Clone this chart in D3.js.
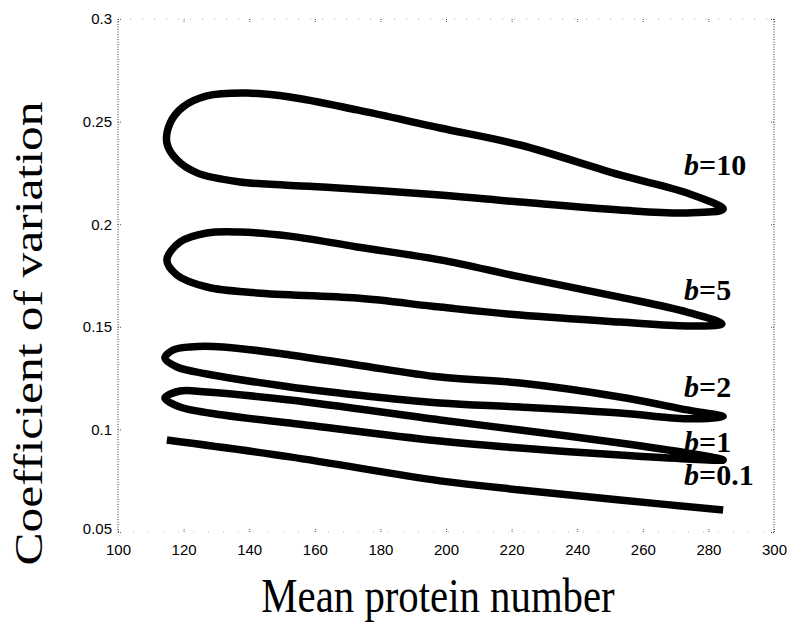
<!DOCTYPE html>
<html>
<head>
<meta charset="utf-8">
<script src="https://cdn.jsdelivr.net/npm/d3@7"></script>
<style>
  body { margin: 0; background: #fff; }
  text { fill: #000; }
</style>
</head>
<body>
<svg id="cv" width="788" height="636"></svg>
<script>
// x ticks, y ticks
const xTicks = [100, 120, 140, 160, 180, 200, 220, 240, 260, 280, 300];
const yTicks = [0.05, 0.1, 0.15, 0.2, 0.25, 0.3];

// curves (mean protein number, CV), loop order
const b10 = [[284.5,0.2074],[273.5,0.2152],[253,0.224],[222.6,0.2386],[198.2,0.2469],[172.9,0.2557],
  [152.4,0.262],[139.3,0.2639],[127.1,0.2625],[119.8,0.2571],[115.9,0.2493],[114.9,0.2396],
  [118,0.2313],[124.1,0.225],[137.2,0.2206],[162.5,0.2181],[198.2,0.2142],[222.6,0.2108],
  [253,0.2069],[273.5,0.2055]];
const b5 = [[284.1,0.1514],[273.5,0.1572],[253,0.1645],[222.6,0.1743],[198.2,0.1826],[172.9,0.1889],
  [152.4,0.1942],[137.2,0.1962],[127.1,0.1957],[118.9,0.1913],[114.9,0.1826],[118,0.1752],
  [127.1,0.1694],[142.4,0.1665],[172.9,0.164],[198.2,0.1596],[222.6,0.1557],[253,0.1523],
  [273.5,0.1504]];
const b2 = [[284.5,0.1062],[273.5,0.1095],[253,0.1158],[222.6,0.1226],[198.2,0.1255],[172.9,0.1314],
  [152.4,0.1363],[132,0.1402],[122,0.1402],[116.8,0.1387],[114.3,0.1348],[118,0.1304],
  [127.1,0.127],[152.4,0.1207],[172.9,0.1168],[198.2,0.1129],[222.6,0.1109],[253,0.108],
  [273.5,0.1052]];
const b1 = [[284.5,0.0851],[273.5,0.0885],[253,0.0934],[222.6,0.0997],[198.2,0.1046],[152.4,0.1143],
  [127.1,0.1182],[118.9,0.1187],[114.3,0.1153],[118.9,0.1109],[132,0.107],[152.4,0.1031],
  [198.2,0.0943],[222.6,0.0909],[253,0.0875],[273.5,0.0856]];
const b01 = [[114.9,0.0948],[152.4,0.0866],[198.2,0.0749],[222.6,0.0705],[253,0.0656],[284.5,0.0607]];

const labels = ["10", "5", "2", "1", "0.1"];
const labelAt = [[273.5,0.224],[273.5,0.163],[273.5,0.1158],[273.5,0.089],[273.5,0.0729]];

const svg = d3.select("svg#cv");
const x = d3.scaleLinear().domain([100, 300]).range([118, 774]);
const y = d3.scaleLinear().domain([0.05, 0.3]).range([532, 19]);

// frame: dotted sides, faint top/bottom
const frame = svg.append("g").attr("id", "frame");
frame.append("line").attr("x1", x(100)).attr("x2", x(100)).attr("y1", y(0.3)).attr("y2", y(0.05))
  .attr("stroke", "#333").attr("stroke-width", 1).attr("stroke-dasharray", "1,1.5");
frame.append("line").attr("x1", x(300)).attr("x2", x(300)).attr("y1", y(0.3)).attr("y2", y(0.05))
  .attr("stroke", "#333").attr("stroke-width", 1).attr("stroke-dasharray", "1,1.5");
frame.append("line").attr("x1", x(100)).attr("x2", x(300)).attr("y1", y(0.3)).attr("y2", y(0.3))
  .attr("stroke", "#aaa").attr("stroke-width", 1).attr("stroke-dasharray", "1,11");
frame.append("line").attr("x1", x(100)).attr("x2", x(300)).attr("y1", y(0.05)).attr("y2", y(0.05))
  .attr("stroke", "#bbb").attr("stroke-width", 1).attr("stroke-dasharray", "1,14");

// axes
const bottomAxis = d3.axisBottom(x).tickValues(xTicks).tickSizeInner(-4).tickSizeOuter(0).tickPadding(12);
const leftAxis = d3.axisLeft(y).tickValues(yTicks).tickSizeInner(-3).tickSizeOuter(0).tickPadding(6)
  .tickFormat(d3.format(".2~f"));
const topAxis = d3.axisTop(x).tickValues(xTicks).tickSizeInner(-3).tickSizeOuter(0).tickFormat("");
const rightAxis = d3.axisRight(y).tickValues(yTicks).tickSizeInner(-3).tickSizeOuter(0).tickFormat("");

const gx = svg.append("g").attr("transform", `translate(0,${y(0.05)})`).call(bottomAxis);
const gy = svg.append("g").attr("transform", `translate(${x(100)},0)`).call(leftAxis);
svg.append("g").attr("transform", `translate(0,${y(0.3)})`).call(topAxis);
svg.append("g").attr("transform", `translate(${x(300)},0)`).call(rightAxis);
svg.selectAll(".domain").remove();
svg.selectAll(".tick line").attr("stroke", "#555").attr("stroke-dasharray", "1,1");
svg.selectAll(".tick text")
  .attr("font-family", "'Liberation Sans', Arial, sans-serif")
  .attr("font-size", 15);
gy.selectAll(".tick").filter(d => d === 0.05).select("text").attr("dy", "0.1em");

// curves
const line = d3.line().x(d => x(d[0])).y(d => y(d[1]));
const loopPath = d3.line().x(d => x(d[0])).y(d => y(d[1])).curve(d3.curveCatmullRomClosed.alpha(0.5));
const curves = svg.append("g").attr("id", "curves");
[b10, b5, b2, b1].forEach(pts => {
  curves.append("path").attr("d", loopPath(pts))
    .attr("fill", "none").attr("stroke", "#000").attr("stroke-width", 7.5)
    .attr("stroke-linejoin", "round");
});
curves.append("path").attr("d", line.curve(d3.curveCatmullRom.alpha(0.5))(b01))
  .attr("fill", "none").attr("stroke", "#000").attr("stroke-width", 7.5).attr("stroke-linecap", "butt");

// b labels
labels.forEach((v, i) => {
  const t = svg.append("text")
    .attr("x", x(labelAt[i][0]) - 3)
    .attr("y", y(labelAt[i][1]))
    .attr("font-family", "'Liberation Serif', 'Times New Roman', serif")
    .attr("font-weight", "bold")
    .attr("font-size", 30);
  t.append("tspan").attr("font-style", "italic").text("b");
  t.append("tspan").text("=" + v);
});

// axis titles
svg.append("text")
  .attr("transform", `translate(438,612) scale(1.02,1.2)`)
  .attr("text-anchor", "middle")
  .attr("font-family", "'Liberation Serif', 'Times New Roman', serif")
  .attr("font-size", 40)
  .text("Mean protein number");
svg.append("text")
  .attr("transform", `translate(42,${(y(0.05) + y(0.3)) / 2 + 58}) rotate(-90) scale(1.27,1)`)
  .attr("text-anchor", "middle")
  .attr("font-family", "'Liberation Serif', 'Times New Roman', serif")
  .attr("font-size", 39)
  .text("Coefficient of variation");
</script>
</body>
</html>
